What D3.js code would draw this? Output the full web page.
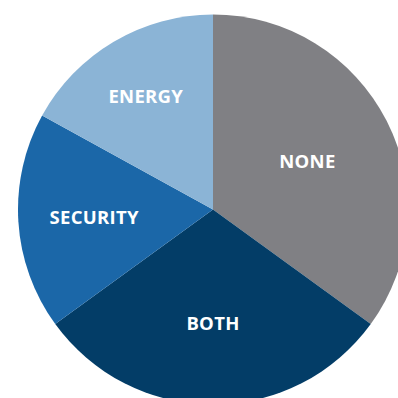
<!DOCTYPE html>
<html>
<head>
<meta charset="utf-8">
<script src="https://cdn.jsdelivr.net/npm/d3@7"></script>
<style>
  html, body { margin: 0; padding: 0; background: #ffffff; }
  svg { display: block; }
</style>
</head>
<body>
<svg id="chart" width="398" height="398"></svg>
<script>
// Data
const categories = ["NONE", "BOTH", "SECURITY", "ENERGY"];
const values = [35, 30, 18, 17];

// Style / layout
const colors = ["#808084", "#033d67", "#1b67a8", "#8bb4d6"];
const labelRadius = { NONE: 106, BOTH: 114, SECURITY: 119, ENERGY: 132 };

const svg = d3.select("#chart");
const cx = 213, cy = 209.5, r = 195;
const g = svg.append("g").attr("transform", `translate(${cx},${cy})`);

const data = categories.map((c, i) => ({ cat: c, value: values[i], color: colors[i] }));
const pie = d3.pie().value(d => d.value).sort(null);
const arcs = pie(data);
const arc = d3.arc().innerRadius(0).outerRadius(r);

g.selectAll("path.slice")
  .data(arcs)
  .join("path")
  .attr("class", "slice")
  .attr("d", arc)
  .attr("fill", d => d.data.color);

g.selectAll("text.lbl")
  .data(arcs)
  .join("text")
  .attr("class", "lbl")
  .attr("transform", d => {
    const lr = labelRadius[d.data.cat];
    const c = d3.arc().innerRadius(lr).outerRadius(lr).centroid(d);
    return `translate(${c[0]},${c[1]})`;
  })
  .attr("text-anchor", "middle")
  .attr("dy", "0.36em")
  .attr("fill", "#ffffff")
  .style("font-family", "'Open Sans', sans-serif")
  .style("font-weight", "700")
  .style("font-size", "18.5px")
  .style("letter-spacing", "0.3px")
  .text(d => d.data.cat);
</script>
</body>
</html>
